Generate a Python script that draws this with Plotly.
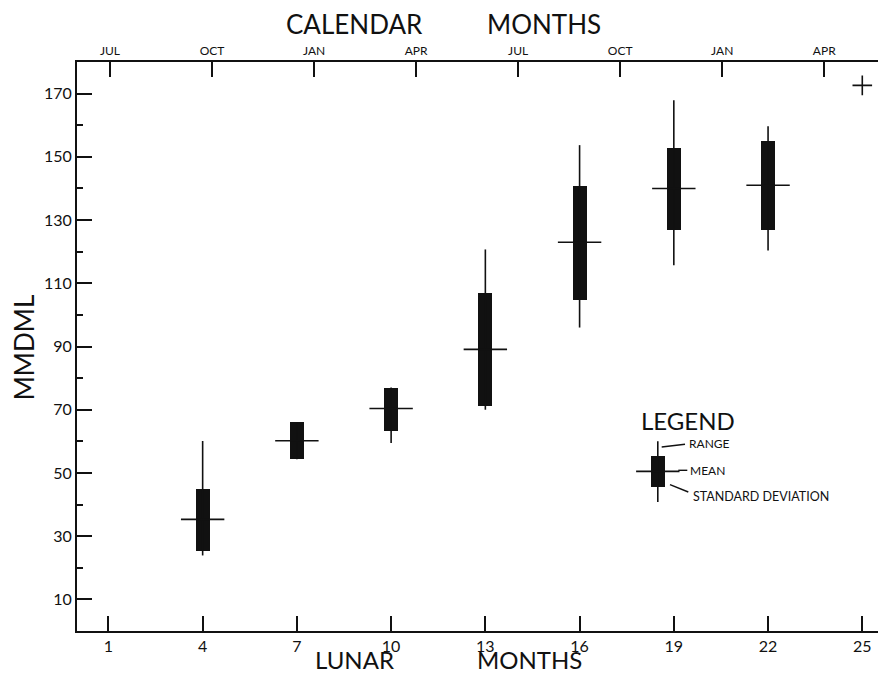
import plotly.graph_objects as go

# ---- data -------------------------------------------------------------
lunar_month = [4, 7, 10, 13, 16, 19, 22]
mean_value = [35.3, 60.2, 70.4, 89.1, 123.0, 140.0, 141.0]
sd_low = [25.2, 54.3, 63.2, 71.1, 104.8, 127.0, 127.0]
sd_high = [45.0, 66.0, 77.0, 106.9, 140.7, 152.9, 155.0]
range_low = [23.9, 54.3, 59.5, 70.0, 96.0, 115.7, 120.4]
range_high = [60.1, 66.0, 77.0, 120.7, 153.7, 167.9, 159.7]

# single observation at month 25
single_month = [25]
single_value = [172.6]

# key glyph explaining the symbols
key_month = 18.49
key_range = (40.8, 60.0)
key_sd = (45.4, 55.3)
key_mean = 50.5

lunar_ticks = [1, 4, 7, 10, 13, 16, 19, 22, 25]
calendar_ticks = [0, 3, 6, 9, 12, 15, 18, 21]
calendar_labels = ["JUL", "OCT", "JAN", "APR", "JUL", "OCT", "JAN", "APR"]
y_ticks = [10, 30, 50, 70, 90, 110, 130, 150, 170]

FONT = "Lato"
INK = "#111111"

# ---- marks ------------------------------------------------------------
xs = lunar_month + [key_month]
lows = range_low + [key_range[0]]
highs = range_high + [key_range[1]]
box_lo = sd_low + [key_sd[0]]
box_hi = sd_high + [key_sd[1]]
means = mean_value + [key_mean]

wx, wy = [], []
for x, lo, hi in zip(xs, lows, highs):
    wx += [x, x, None]
    wy += [lo, hi, None]

fig = go.Figure()

fig.add_trace(go.Bar(
    x=xs, base=box_lo, y=[h - l for h, l in zip(box_hi, box_lo)],
    width=0.45, marker=dict(color=INK, line=dict(width=0)),
    hoverinfo="skip", showlegend=False,
))
fig.add_trace(go.Scatter(
    x=wx, y=wy, mode="lines", line=dict(color=INK, width=1.6),
    hoverinfo="skip", showlegend=False,
))
fig.add_trace(go.Scatter(
    x=xs, y=means, mode="markers",
    marker=dict(symbol="line-ew", size=31, color=INK,
                line=dict(color=INK, width=1.6)),
    hoverinfo="skip", showlegend=False,
))
fig.add_trace(go.Scatter(
    x=single_month, y=single_value, mode="markers",
    marker=dict(symbol="cross-thin", size=14, color=INK,
                line=dict(color=INK, width=1.6)),
    hoverinfo="skip", showlegend=False,
))
# carrier trace for the calendar axis along the top
fig.add_trace(go.Scatter(
    x=calendar_ticks, y=[None] * len(calendar_ticks), xaxis="x2",
    mode="markers", hoverinfo="skip", showlegend=False,
))

# ---- axes -------------------------------------------------------------
common = dict(showgrid=False, zeroline=False, showline=True, linewidth=2,
              linecolor=INK, ticks="inside", ticklen=15, tickwidth=1.5,
              tickcolor=INK)

fig.update_layout(
    width=878, height=675,
    margin=dict(l=77, r=0, t=62, b=44),
    plot_bgcolor="white", paper_bgcolor="white",
    font=dict(family=FONT, color=INK),
    showlegend=False, bargap=0,
    xaxis=dict(range=[0, 25.5], tickmode="array", tickvals=lunar_ticks,
               tickfont=dict(size=16, family=FONT, color=INK),
               ticklabelstandoff=0, **common),
    xaxis2=dict(range=[-0.97, 22.58], overlaying="x", side="top",
                anchor="y", tickmode="array", tickvals=calendar_ticks,
                ticktext=calendar_labels,
                tickfont=dict(size=12, family=FONT, color=INK),
                ticklabelstandoff=0, **common),
    yaxis=dict(range=[0, 180], tickmode="array", tickvals=y_ticks,
               tickfont=dict(size=16, family=FONT, color=INK),
               ticklabelstandoff=0,
               minor=dict(tickmode="array",
                          tickvals=[20, 40, 60, 80, 100, 120, 140, 160],
                          ticks="inside", ticklen=6, tickwidth=1.5,
                          tickcolor=INK),
               **common),
)

# ---- titles -----------------------------------------------------------
def px_x(px):
    return (px - 77) / 801.0


def px_y(py):
    return (630.7 - py) / 569.0


def label(text, x, y, size, angle=0, xanchor="center"):
    fig.add_annotation(text=text, x=x, y=y, xref="paper", yref="paper",
                       showarrow=False, textangle=angle, xanchor=xanchor,
                       yanchor="middle", borderpad=0,
                       font=dict(family=FONT, size=size, color=INK))


label("CALENDAR", px_x(354.5), px_y(24), 26)
label("MONTHS", px_x(543.5), px_y(24), 26)
label("LUNAR", px_x(354), px_y(659), 24)
label("MONTHS", px_x(529), px_y(659), 24)
label("MMDML", px_x(24), px_y(347), 26, angle=-90)

# ---- key text and leader lines ----------------------------------------
label("LEGEND", px_x(687.5), px_y(420), 24)
label("RANGE", px_x(688.3), px_y(443.3), 12, xanchor="left")
label("MEAN", px_x(689.3), px_y(470), 12, xanchor="left")
label("STANDARD DEVIATION", px_x(691.7), px_y(496), 12.5, xanchor="left")

leaders = [
    ((661.7, 446.7), (685.0, 444.0)),
    ((678.3, 470.0), (687.3, 470.0)),
    ((670.0, 484.3), (688.3, 491.7)),
]
for (x0, y0), (x1, y1) in leaders:
    fig.add_shape(type="line", xref="paper", yref="paper",
                  x0=px_x(x0), y0=px_y(y0), x1=px_x(x1), y1=px_y(y1),
                  line=dict(color=INK, width=1.4))

fig.write_html("out.html")
